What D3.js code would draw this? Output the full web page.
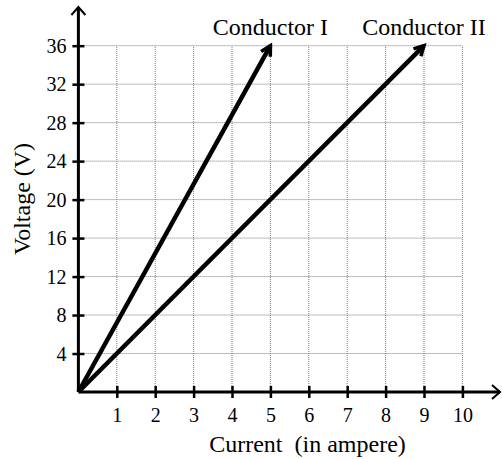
<!DOCTYPE html>
<html>
<head>
<meta charset="utf-8">
<script src="https://cdn.jsdelivr.net/npm/d3@7"></script>
<style>
	body { margin: 0; background: white; }
	text { font-family: "Liberation Serif", "DejaVu Serif", serif; fill: black; }
</style>
</head>
<body>
<svg id="chart" width="502" height="459"></svg>
<script>
// data
var xTicks = [1, 2, 3, 4, 5, 6, 7, 8, 9, 10];
var yTicks = [4, 8, 12, 16, 20, 24, 28, 32, 36];
var conductorNames = ["Conductor I", "Conductor II"];
var conductorCurrent = [[0, 5], [0, 9]];
var conductorVoltage = [[0, 36], [0, 36]];

var svg = d3.select("#chart");

var x = d3.scaleLinear().domain([0, 10]).range([78.4, 462.4]);
var y = d3.scaleLinear().domain([0, 36]).range([392, 45.7]);

// grid
var grid = svg.append("g");
grid.selectAll(".vgrid")
	.data(xTicks)
	.enter().append("line")
	.attr("x1", d => x(d)).attr("x2", d => x(d))
	.attr("y1", y(0)).attr("y2", y(36))
	.attr("stroke", "#7a7a7a")
	.attr("stroke-width", 1)
	.attr("stroke-dasharray", "1,1");
grid.selectAll(".hgrid")
	.data(yTicks)
	.enter().append("line")
	.attr("x1", x(0)).attr("x2", x(10))
	.attr("y1", d => y(d)).attr("y2", d => y(d))
	.attr("stroke", "#7a7a7a")
	.attr("stroke-width", 1)
	.attr("stroke-dasharray", "1,1");

// axes
var xAxis = d3.axisBottom(x).tickValues(xTicks).tickSize(0).tickPadding(0);
var yAxis = d3.axisLeft(y).tickValues(yTicks).tickSize(0).tickPadding(0);

var gx = svg.append("g").attr("transform", "translate(0," + y(0) + ")").call(xAxis);
gx.select(".domain").remove();
gx.selectAll(".tick text")
	.attr("y", 29.5)
	.attr("dy", 0)
	.attr("font-size", 20)
	.attr("font-family", null);
gx.selectAll(".tick").append("line")
	.attr("y1", -6).attr("y2", 6)
	.attr("stroke", "black").attr("stroke-width", 2.5);

var gy = svg.append("g").attr("transform", "translate(" + x(0) + ",0)").call(yAxis);
gy.select(".domain").remove();
gy.selectAll(".tick text")
	.attr("x", -12)
	.attr("dy", "0.34em")
	.attr("font-size", 20)
	.attr("font-family", null);
gy.selectAll(".tick").append("line")
	.attr("x1", -6).attr("x2", 6)
	.attr("stroke", "black").attr("stroke-width", 2.5);

// axis lines with arrows
svg.append("line")
	.attr("x1", x(0)).attr("y1", y(0))
	.attr("x2", 500).attr("y2", y(0))
	.attr("stroke", "black").attr("stroke-width", 3);
svg.append("path")
	.attr("d", "M492," + (y(0) - 7) + "L500," + y(0) + "L492," + (y(0) + 7))
	.attr("fill", "none").attr("stroke", "black").attr("stroke-width", 2);

svg.append("line")
	.attr("x1", x(0)).attr("y1", y(0))
	.attr("x2", x(0)).attr("y2", 7)
	.attr("stroke", "black").attr("stroke-width", 3);
svg.append("path")
	.attr("d", "M" + (x(0) - 7) + ",15L" + x(0) + ",7L" + (x(0) + 7) + ",15")
	.attr("fill", "none").attr("stroke", "black").attr("stroke-width", 2);

// conductor lines
var line = d3.line().x(d => x(d[0])).y(d => y(d[1]));
conductorNames.forEach(function(name, i) {
	var pts = conductorCurrent[i].map((c, j) => [c, conductorVoltage[i][j]]);
	svg.append("path")
		.attr("d", line(pts))
		.attr("fill", "none")
		.attr("stroke", "black")
		.attr("stroke-width", 4.5);
	// arrow head
	var x1 = x(pts[1][0]), y1 = y(pts[1][1]);
	var ang = Math.atan2(y1 - y(pts[0][1]), x1 - x(pts[0][0]));
	var len = 11, spread = 0.5;
	var ax = x1 - len * Math.cos(ang - spread), ay = y1 - len * Math.sin(ang - spread);
	var bx = x1 - len * Math.cos(ang + spread), by = y1 - len * Math.sin(ang + spread);
	svg.append("path")
		.attr("d", "M" + ax + "," + ay + "L" + x1 + "," + y1 + "L" + bx + "," + by)
		.attr("fill", "none")
		.attr("stroke", "black")
		.attr("stroke-width", 3.5)
		.attr("stroke-linejoin", "miter");
	svg.append("text")
		.attr("x", x1)
		.attr("y", 35)
		.attr("text-anchor", "middle")
		.attr("font-size", 24)
		.text(name);
});

// axis titles
svg.append("text")
	.attr("x", 307.5)
	.attr("y", 452)
	.attr("text-anchor", "middle")
	.attr("font-size", 24)
	.attr("xml:space", "preserve")
	.text("Current  (in ampere)");

svg.append("text")
	.attr("transform", "translate(30,199) rotate(-90)")
	.attr("text-anchor", "middle")
	.attr("font-size", 24)
	.text("Voltage (V)");
</script>
</body>
</html>
